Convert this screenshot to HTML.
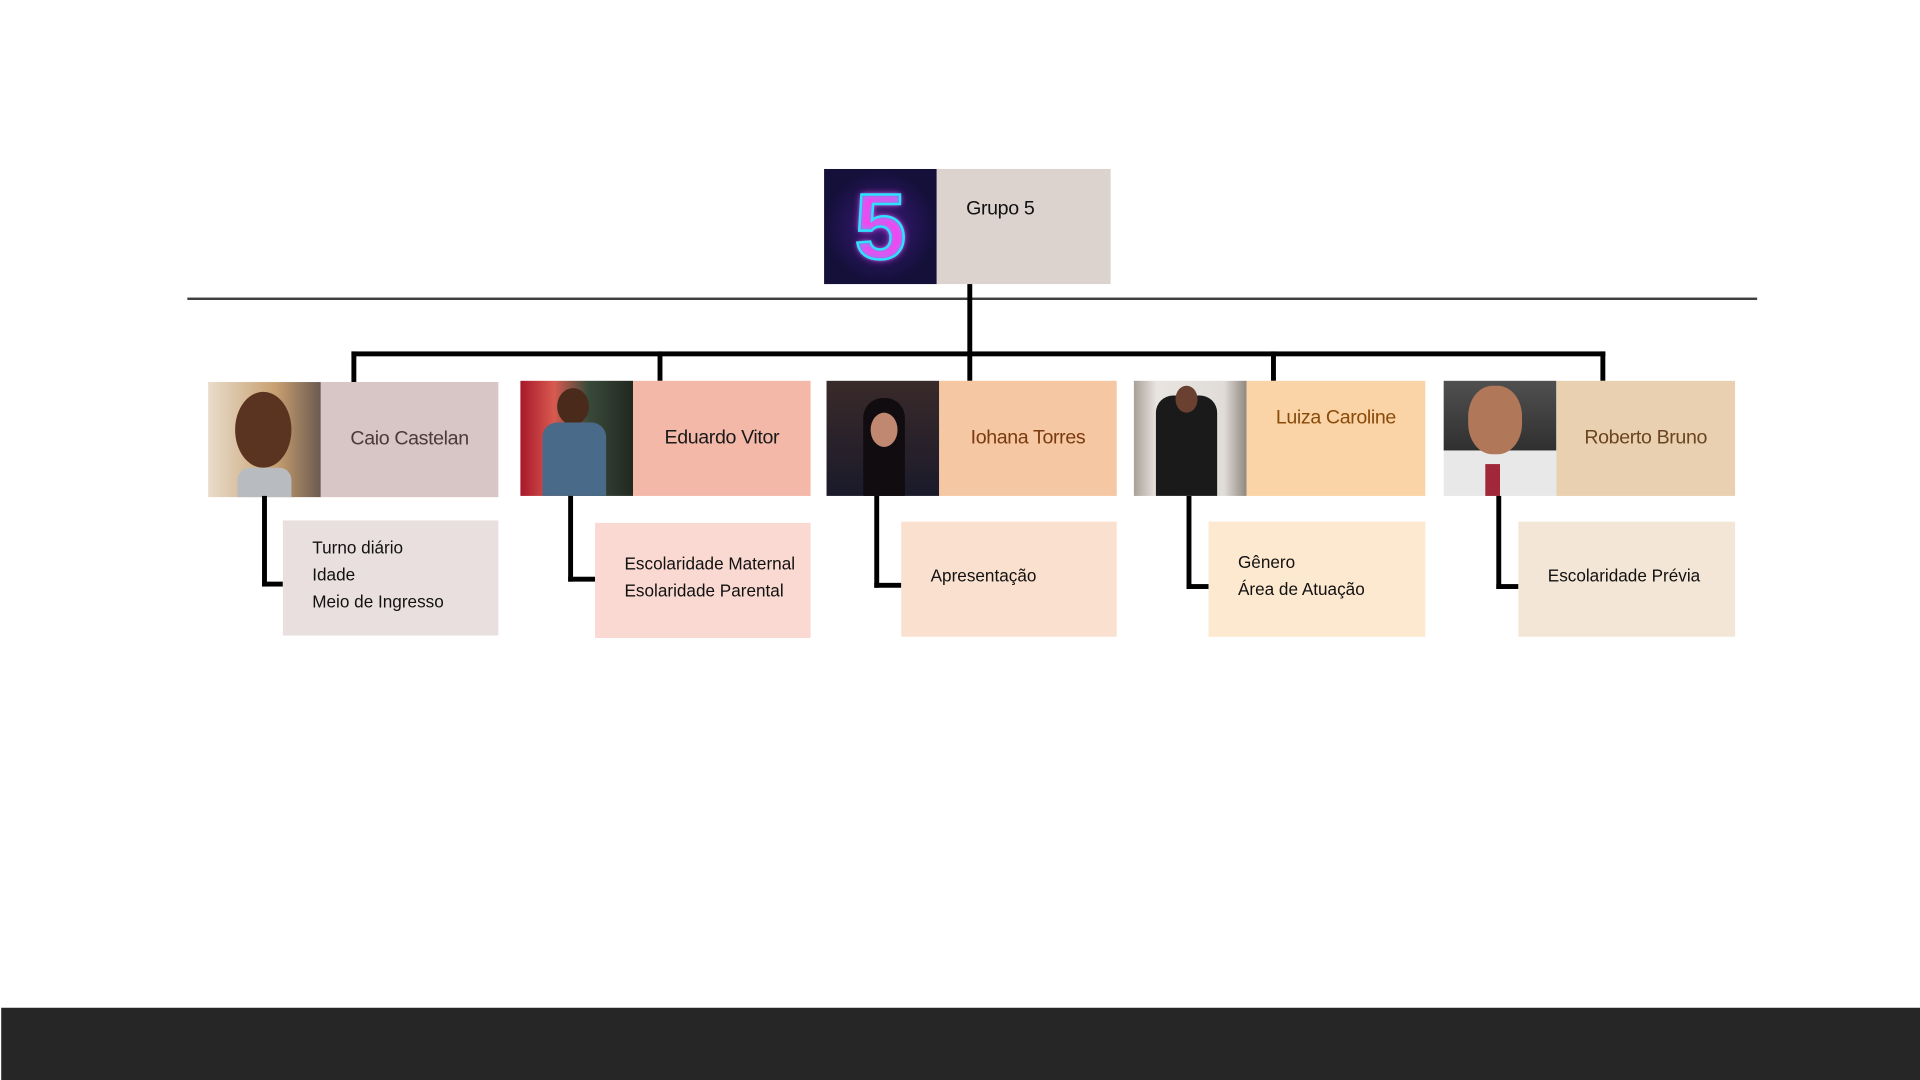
<!DOCTYPE html>
<html><head><meta charset="utf-8"><style>
html,body{margin:0;padding:0;width:1920px;height:1080px;overflow:hidden;background:#fff}
#w{position:absolute;left:0;top:0;width:1568px;height:882px;transform:scale(1.22449);transform-origin:0 0;font-family:"Liberation Sans Narrow","Liberation Sans",sans-serif}
.a{position:absolute}
.ln{position:absolute;background:#000}
.name{position:absolute;font-size:16px;display:flex;align-items:center;justify-content:center;letter-spacing:-0.3px}
.sub{position:absolute;font-size:14px;color:#111;line-height:22px;box-sizing:border-box;padding-left:24px;padding-bottom:6px;display:flex;flex-direction:column;justify-content:center}
</style></head><body><div id="w">
<div class="a" style="left:673px;top:138px;width:92px;height:94px;background:radial-gradient(circle at 50% 50%,#3a1a7a,#14103a 70%)">
<div class="a" style="left:0;top:0;width:92px;height:94px;display:flex;align-items:center;justify-content:center;font:bold 76px 'Liberation Sans',sans-serif;text-shadow:0 0 6px #ff3cf0,0 0 3px #20e0ff;-webkit-text-stroke:2px #30e0ff;color:transparent">5</div></div>
<div class="a" style="left:765px;top:138px;width:142px;height:94px;background:#dcd3cf"></div>
<div class="a" style="left:789px;top:162px;font-size:16px;color:#111;letter-spacing:-0.3px">Grupo 5</div>
<div class="a" style="left:153px;top:243px;width:1282px;height:1.5px;background:#404040"></div>
<div class="ln" style="left:790px;top:232px;width:4px;height:79px"></div>
<div class="ln" style="left:287px;top:287px;width:1024px;height:4px"></div>
<div class="ln" style="left:287px;top:287px;width:4px;height:25px"></div>
<div class="ln" style="left:537px;top:287px;width:4px;height:24px"></div>
<div class="ln" style="left:1038px;top:287px;width:4px;height:24px"></div>
<div class="ln" style="left:1307px;top:287px;width:4px;height:24px"></div>
<div class="a" style="left:170px;top:312px;width:92px;height:94px;background:linear-gradient(90deg,#e8dccb,#c8a070 60%,#6a5a50)"><div class="a" style="left:22px;top:8px;width:46px;height:62px;border-radius:50%;background:#5a3420"></div><div class="a" style="left:24px;top:70px;width:44px;height:24px;background:#b8bcc0;border-radius:10px 10px 0 0"></div></div>
<div class="name" style="left:262px;top:312px;width:145px;height:94px;background:#d8c5c5;color:#4a3a3a">Caio Castelan</div>
<div class="a" style="left:425px;top:311px;width:92px;height:94px;background:linear-gradient(90deg,#a8182a,#d85a50 30%,#3a4a3a 60%,#202820)"><div class="a" style="left:30px;top:6px;width:26px;height:30px;border-radius:50%;background:#4a2a1a"></div><div class="a" style="left:18px;top:34px;width:52px;height:60px;background:#4a6a8a;border-radius:12px 12px 0 0"></div></div>
<div class="name" style="left:517px;top:311px;width:145px;height:94px;background:#f4b8a8;color:#1a1a1a">Eduardo Vitor</div>
<div class="a" style="left:675px;top:311px;width:92px;height:94px;background:linear-gradient(180deg,#3a2a2a,#1a1a2a)"><div class="a" style="left:30px;top:14px;width:34px;height:80px;border-radius:16px 16px 0 0;background:#100c10"></div><div class="a" style="left:36px;top:26px;width:22px;height:28px;border-radius:50%;background:#c08870"></div></div>
<div class="name" style="left:767px;top:311px;width:145px;height:94px;background:#f5c7a3;color:#7a3a10">Iohana Torres</div>
<div class="a" style="left:926px;top:311px;width:92px;height:94px;background:linear-gradient(90deg,#a8a098,#e8e4e0 20%,#e0dcd8 80%,#908880)"><div class="a" style="left:18px;top:12px;width:50px;height:82px;background:#1a1a1a;border-radius:14px 14px 0 0"></div><div class="a" style="left:34px;top:4px;width:18px;height:22px;border-radius:50%;background:#6a4030"></div></div>
<div class="name" style="left:1018px;top:311px;width:146px;height:94px;background:#fad4a6;color:#8a4a0a;align-items:flex-start;padding-top:22px;box-sizing:border-box">Luiza Caroline</div>
<div class="a" style="left:1179px;top:311px;width:92px;height:94px;background:linear-gradient(180deg,#505050,#303030 60%,#e8e8e8 61%)"><div class="a" style="left:20px;top:4px;width:44px;height:56px;border-radius:45%;background:#b07858"></div><div class="a" style="left:34px;top:68px;width:12px;height:26px;background:#a02838"></div></div>
<div class="name" style="left:1271px;top:311px;width:146px;height:94px;background:#e8d0b0;color:#6b4420">Roberto Bruno</div>
<div class="ln" style="left:214px;top:405px;width:4px;height:74px"></div><div class="ln" style="left:214px;top:475px;width:17px;height:4px"></div>
<div class="ln" style="left:464px;top:405px;width:4px;height:70px"></div><div class="ln" style="left:464px;top:471px;width:22px;height:4px"></div>
<div class="ln" style="left:714px;top:405px;width:4px;height:75px"></div><div class="ln" style="left:714px;top:476px;width:22px;height:4px"></div>
<div class="ln" style="left:969px;top:405px;width:4px;height:76px"></div><div class="ln" style="left:969px;top:477px;width:18px;height:4px"></div>
<div class="ln" style="left:1222px;top:405px;width:4px;height:76px"></div><div class="ln" style="left:1222px;top:477px;width:18px;height:4px"></div>
<div class="sub" style="left:231px;top:425px;width:176px;height:94px;background:#eadfdf"><div>Turno diário</div><div>Idade</div><div>Meio de Ingresso</div></div>
<div class="sub" style="left:486px;top:427px;width:176px;height:94px;background:#f9d9d1"><div>Escolaridade Maternal</div><div>Esolaridade Parental</div></div>
<div class="sub" style="left:736px;top:426px;width:176px;height:94px;background:#fae1cf"><div>Apresentação</div></div>
<div class="sub" style="left:987px;top:426px;width:177px;height:94px;background:#fde8d0"><div>Gênero</div><div>Área de Atuação</div></div>
<div class="sub" style="left:1240px;top:426px;width:177px;height:94px;background:#f3e6d6"><div>Escolaridade Prévia</div></div>
<div class="a" style="left:1px;top:823px;width:1567px;height:59px;background:#262626"></div>
</div></body></html>
